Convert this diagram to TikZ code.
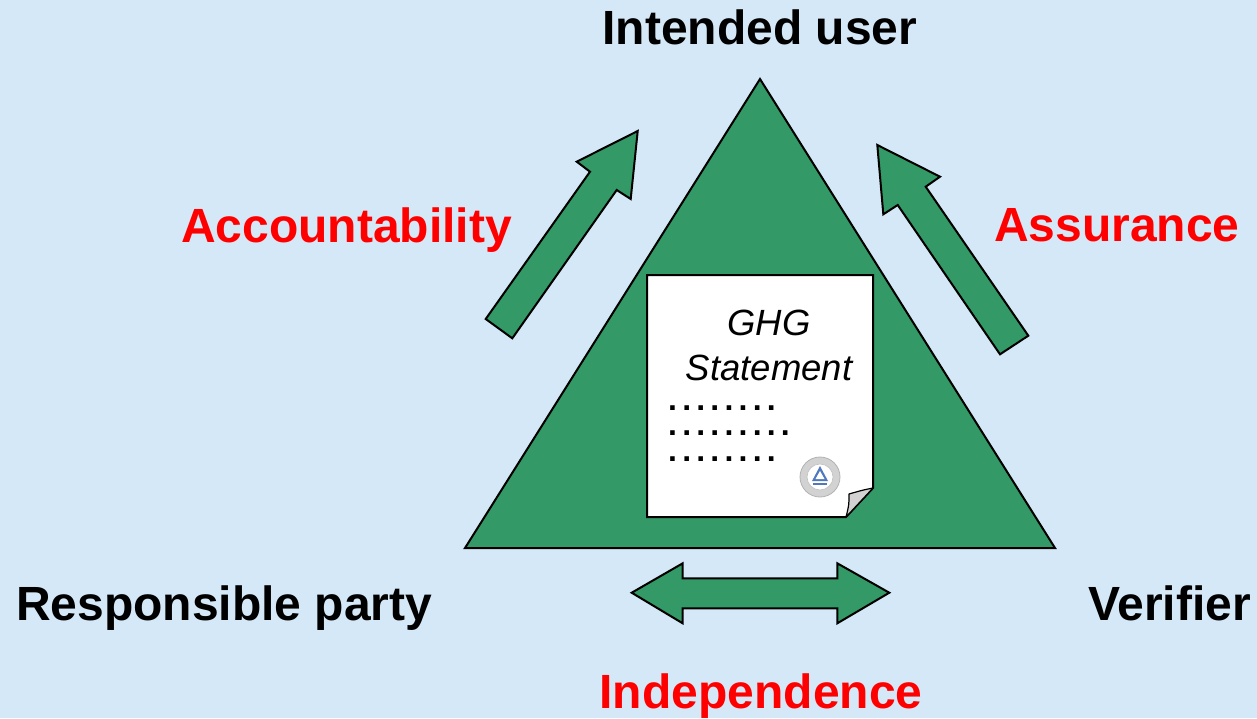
\documentclass[tikz,border=0pt]{standalone}
\usepackage{fontspec}
\setmainfont{Liberation Sans}
\definecolor{bg}{RGB}{213,232,247}
\definecolor{grn}{RGB}{51,153,102}
\definecolor{lblred}{RGB}{255,0,0}
\definecolor{stampblue}{RGB}{80,120,190}
\newcommand\gdot{.\kern5.2pt}
\begin{document}
\begin{tikzpicture}[x=1pt,y=-1pt,
  lbl/.style={font=\fontsize{48}{56}\selectfont\bfseries, inner sep=0pt},
  redlbl/.style={lbl, text=lblred},
  shapeline/.style={draw=black, line width=2pt, line join=miter, fill=grn},
  doctext/.style={font=\fontsize{36.5}{45}\selectfont\itshape, inner sep=0pt, align=center},
  dotrow/.style={font=\fontsize{32}{25.5}\selectfont\bfseries, inner sep=0pt, align=left}]
\useasboundingbox (0,0) rectangle (1257,718);
\fill[bg] (0,0) rectangle (1257,718);

% triangle
\draw[shapeline] (760,79) -- (465,548) -- (1055,548) -- cycle;

% left block arrow (Accountability)
\draw[shapeline] (637.7,131) -- (576.7,161.7) -- (590,171.7) -- (485.7,319)
  -- (512.3,338.3) -- (616.7,190) -- (630.7,199) -- cycle;

% right block arrow (Assurance)
\draw[shapeline] (877.3,145) -- (940,176.7) -- (925.7,186.7) -- (1028.3,335.7)
  -- (1000,354.3) -- (897.7,205) -- (883.3,214.3) -- cycle;

% double block arrow (Independence)
\draw[shapeline] (631.7,592.7) -- (682.7,563.3) -- (682.7,578.3) -- (837.3,578.3)
  -- (837.3,563.3) -- (889.3,592.7) -- (837.3,623.3) -- (837.3,608.3)
  -- (682.7,608.3) -- (682.7,623.3) -- cycle;

% document
\draw[fill=white, draw=black, line width=2pt, line join=miter]
  (647,275) -- (873,275) -- (873,488) -- (846,517) -- (647,517) -- cycle;
\draw[fill=gray!35, draw=black, line width=1.2pt, line join=round]
  (873,488) .. controls (863,490) .. (849,494) .. controls (849,505) .. (846,517) -- cycle;

% stamp
\fill[gray!35] (820,477) circle (20);
\draw[gray!60, line width=0.8pt] (820,477) circle (20);
\fill[white] (820,477) circle (13);
\draw[gray!50, line width=0.6pt] (820,477) circle (13);
\fill[stampblue] (820,466) -- (812,481) -- (828,481) -- cycle;
\fill[white] (820,471) -- (815.5,479) -- (824.5,479) -- cycle;
\fill[stampblue] (813,483) rectangle (827,485);

\node[doctext, anchor=base] (ghg) at (769,380) {GHG\\Statement};
\node[dotrow, anchor=base west] (dots) at (668,461)
  {\gdot\gdot\gdot\gdot\gdot\gdot\gdot.\\\gdot\gdot\gdot\gdot\gdot\gdot\gdot\gdot.\\\gdot\gdot\gdot\gdot\gdot\gdot\gdot.};

% labels
\node[lbl, anchor=base] (user) at (760,44) {Intended user};
\node[lbl, anchor=base west] (resp) at (16,620) {Responsible party};
\node[lbl, anchor=base east] (ver) at (1251,620) {Verifier};
\node[redlbl, anchor=base west] (acc) at (181,242) {Accountability};
\node[redlbl, anchor=base west] (ass) at (994,241) {Assurance};
\node[redlbl, anchor=base] (ind) at (761,708) {Independence};
\end{tikzpicture}
\end{document}
